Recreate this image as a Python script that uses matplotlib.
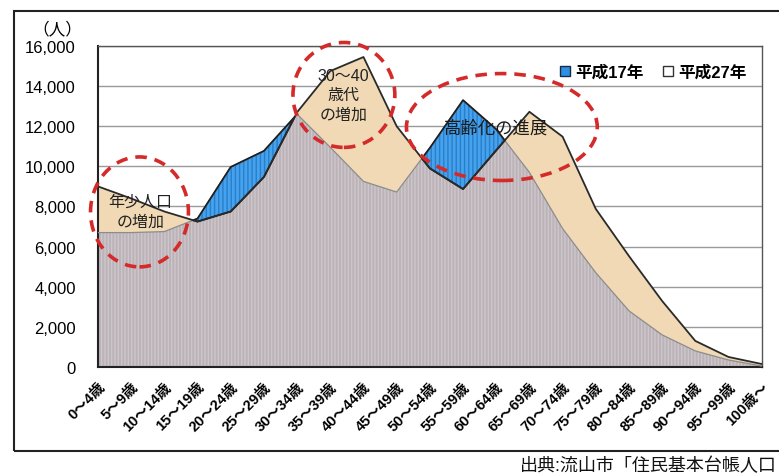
import numpy as np
import matplotlib
matplotlib.use("Agg")
import matplotlib.pyplot as plt
from matplotlib.patches import Ellipse, Rectangle
from matplotlib.lines import Line2D
from matplotlib.ticker import FuncFormatter

plt.rcParams['font.family'] = ['Liberation Sans', 'Noto Sans CJK JP']
plt.rcParams['hatch.linewidth'] = 1.0

ages = ['0～4歳', '5～9歳', '10～14歳', '15～19歳', '20～24歳', '25～29歳',
        '30～34歳', '35～39歳', '40～44歳', '45～49歳', '50～54歳', '55～59歳',
        '60～64歳', '65～69歳', '70～74歳', '75～79歳', '80～84歳', '85～89歳',
        '90～94歳', '95～99歳', '100歳～']
# 平成17年 / 平成27年 population by age group
h17 = [6700, 6700, 6750, 7400, 9970, 10770, 12600, 10950, 9250, 8720, 10920,
       13300, 11850, 9700, 6900, 4700, 2800, 1600, 800, 350, 50]
h27 = [9000, 8400, 7750, 7250, 7750, 9470, 12700, 14750, 15450, 12000, 9900,
       8870, 10800, 12720, 11480, 7880, 5530, 3290, 1300, 500, 150]
legend_labels = ['平成17年', '平成27年']

x = np.arange(len(ages))
a17 = np.array(h17)
a27 = np.array(h27)

fig = plt.figure(figsize=(7.79, 4.77), dpi=100)
ax = fig.add_axes([0.1258, 0.2285, 0.852, 0.673])

ax.set_axisbelow(True)
ax.yaxis.grid(True, color='#9a9a9a', lw=1.0)

# overlap (grey striped), blue where H17 is higher, beige where H27 is higher
ax.fill_between(x, 0, a17, facecolor='#bbb3b8', edgecolor='#cdc6ca',
                hatch='|||||', lw=0, zorder=1)
ax.fill_between(x, a27, a17, where=a17 >= a27, interpolate=True,
                facecolor='#44a3ec', edgecolor='#2b7dcc', hatch='||||', lw=0, zorder=2)
ax.fill_between(x, a17, a27, where=a27 >= a17, interpolate=True,
                facecolor='#f0d9b4', lw=0, zorder=2)
ax.plot(x, a17, color='#8c8c8c', lw=0.9, zorder=3)
ax.fill_between(x, a27, a17, where=a17 >= a27, interpolate=True,
                facecolor='none', edgecolor='#1f1f1f', lw=1.3, zorder=4)
ax.plot(x, a27, color='#2a2a2a', lw=1.3, zorder=4)

ax.set_xlim(0, len(ages) - 1)
ax.set_ylim(0, 16000)
ax.set_yticks(np.arange(0, 16001, 2000))
ax.yaxis.set_major_formatter(FuncFormatter(lambda v, p: f'{int(v):,}'))
ax.tick_params(axis='y', length=0, pad=16, labelsize=12)
ax.set_xticks(x)
ax.set_xticklabels(ages, rotation=45, ha='right', rotation_mode='anchor',
                   fontsize=10.5, fontweight='bold')
ax.tick_params(axis='x', direction='in', length=4, pad=9, color='#333333')

for side in ['left', 'bottom']:
    ax.spines[side].set_color('#222222')
    ax.spines[side].set_linewidth(1.5)
for side in ['top', 'right']:
    ax.spines[side].set_color('#555555')
    ax.spines[side].set_linewidth(1.0)

ax.text(-0.062, 1.053, '（人）', transform=ax.transAxes, fontsize=12,
        ha='center', va='center', family='Noto Sans CJK JP')

# legend
handles = [Line2D([], [], marker='s', ls='', markersize=6.5,
                  markerfacecolor='#2f8fe0', markeredgecolor='#1a2a44'),
           Line2D([], [], marker='s', ls='', markersize=6.5,
                  markerfacecolor='white', markeredgecolor='#333333')]
ax.legend(handles, legend_labels, ncol=2, loc='upper right',
          bbox_to_anchor=(1.0, 0.99), frameon=False, handletextpad=0.1,
          columnspacing=1.0, handlelength=1.0, prop={'size': 12, 'weight': 'bold'})

# red dashed call-outs
red = '#d42a2a'
for (cx, cy, w, h) in [(1.25, 7730, 2.95, 5480), (7.41, 13560, 3.07, 5230),
                       (12.17, 11960, 5.75, 5330)]:
    ax.add_patch(Ellipse((cx, cy), w, h, fill=False, ec=red, lw=2.6,
                         ls=(0, (3.2, 2.2)), clip_on=False, zorder=6))

ax.text(1.27, 7750, '年少人口\nの増加', ha='center', va='center', fontsize=11.5,
        linespacing=1.45, zorder=7, color='#222222')
ax.text(7.4, 13560, '30～40\n歳代\nの増加', ha='center', va='center', fontsize=11.5,
        linespacing=1.35, zorder=7, color='#222222')
ax.text(12.0, 11920, '高齢化の進展', ha='center', va='center', fontsize=12.5,
        zorder=7, color='#1a1a1a')

# outer frame and source note
fig.add_artist(Rectangle((14 / 779, 1 - 452 / 477), 1.0, 440 / 477,
                         transform=fig.transFigure, fill=False,
                         ec='#222222', lw=1.5))
fig.text(0.997, 1 - 466 / 477, '出典:流山市「住民基本台帳人口',
         fontsize=13, va='center', ha='right', color='#111111')

fig.savefig('out.png', dpi=100)
